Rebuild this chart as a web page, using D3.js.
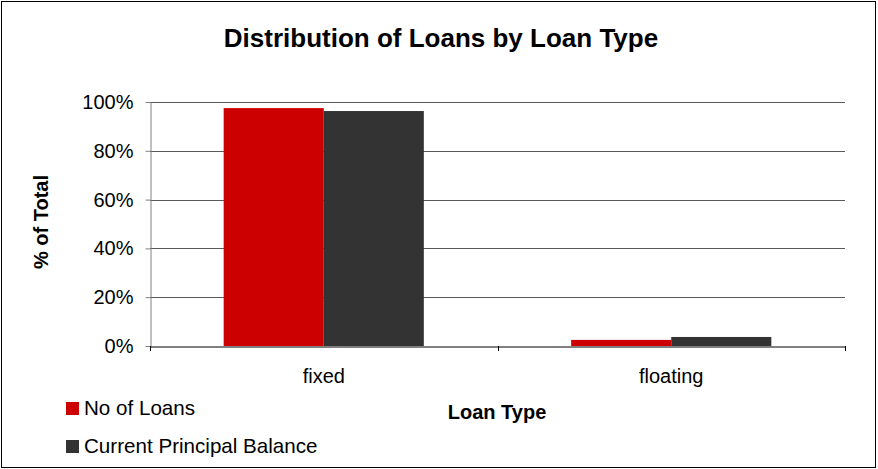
<!DOCTYPE html>
<html>
<head>
<meta charset="utf-8">
<script src="https://cdn.jsdelivr.net/npm/d3@7"></script>
<style>
  body { margin: 0; background: #fff; }
  svg { display: block; font-family: "Liberation Sans", Arial, sans-serif; }
</style>
</head>
<body>
<svg id="chart" width="878" height="469"></svg>
<script>
// Loan type categories and share of total per series
const loanTypes = ["fixed", "floating"];
const seriesNames = ["No of Loans", "Current Principal Balance"];
const noOfLoans = [0.975, 0.025];
const currentPrincipalBalance = [0.963, 0.037];
const yTicks = [0, 0.2, 0.4, 0.6, 0.8, 1.0];
const seriesColors = ["#cc0000", "#333333"];

const svg = d3.select("#chart");
const W = 878, H = 469;
const margin = { left: 150, right: 33, top: 102, bottom: 123 };
const plotW = W - margin.left - margin.right;
const plotH = H - margin.top - margin.bottom;
const FONT = "Liberation Sans, Arial, sans-serif";

// outer frame
svg.append("rect")
  .attr("x", 1.5).attr("y", 1.5)
  .attr("width", W - 4).attr("height", H - 3)
  .attr("fill", "#fff").attr("stroke", "#000").attr("stroke-width", 1);

const g = svg.append("g").attr("transform", `translate(${margin.left},${margin.top})`);

const x = d3.scaleBand().domain(loanTypes).range([0, plotW]).paddingInner(0).paddingOuter(0);
const xInner = d3.scaleBand().domain(seriesNames).range([0, x.bandwidth() * 0.576]);
const groupOffset = (x.bandwidth() - xInner.range()[1]) / 2;
const y = d3.scaleLinear().domain([0, 1]).range([plotH, 0]);

// horizontal gridlines
g.append("g").selectAll("line").data(yTicks.filter(d => d > 0)).join("line")
  .attr("x1", 0).attr("x2", plotW)
  .attr("y1", d => Math.round(y(d)) + 0.5).attr("y2", d => Math.round(y(d)) + 0.5)
  .attr("stroke", "#5a5a5a").attr("stroke-width", 1);

// bars
const values = [noOfLoans, currentPrincipalBalance];
seriesNames.forEach((name, si) => {
  g.append("g").selectAll("rect").data(loanTypes).join("rect")
    .attr("x", (d) => x(d) + groupOffset + xInner(name))
    .attr("width", xInner.bandwidth())
    .attr("y", (d, i) => y(values[si][i]))
    .attr("height", (d, i) => plotH - y(values[si][i]))
    .attr("fill", seriesColors[si]);
});

// y axis
const yAxis = g.append("g")
  .attr("transform", "translate(0.5,0)")
  .call(d3.axisLeft(y).tickValues(yTicks).tickFormat(d3.format(".0%")).tickSize(5).tickSizeOuter(0).tickPadding(12));
yAxis.select(".domain").attr("stroke", "#808080");
yAxis.selectAll(".tick line").attr("stroke", "#808080");
yAxis.selectAll("text").attr("font-size", 20).attr("fill", "#000").attr("font-family", FONT);

// x axis
const xAxis = g.append("g")
  .attr("transform", `translate(0,${Math.round(plotH) + 0.5})`)
  .call(d3.axisBottom(x).tickSize(0).tickPadding(22));
xAxis.select(".domain").attr("stroke", "#000");
xAxis.selectAll("text").attr("font-size", 20).attr("fill", "#000").attr("font-family", FONT);
// category boundary tick marks
g.append("g").selectAll("line").data([0, x.bandwidth(), plotW]).join("line")
  .attr("x1", d => Math.round(d) + 0.5).attr("x2", d => Math.round(d) + 0.5)
  .attr("y1", Math.round(plotH)).attr("y2", Math.round(plotH) + 5)
  .attr("stroke", "#000");

// title
svg.append("text")
  .attr("x", 441).attr("y", 47)
  .attr("text-anchor", "middle")
  .attr("font-size", 26).attr("font-weight", "bold")
  .text("Distribution of Loans by Loan Type");

// axis titles
svg.append("text")
  .attr("transform", "translate(48,222) rotate(-90)")
  .attr("text-anchor", "middle")
  .attr("font-size", 20).attr("font-weight", "bold")
  .text("% of Total");

svg.append("text")
  .attr("x", 497).attr("y", 419)
  .attr("text-anchor", "middle")
  .attr("font-size", 20).attr("font-weight", "bold")
  .text("Loan Type");

// legend
const legend = svg.append("g").attr("transform", "translate(66,402)");
seriesNames.forEach((name, i) => {
  const row = legend.append("g").attr("transform", `translate(0,${i * 38})`);
  row.append("rect").attr("width", 13).attr("height", 13).attr("fill", seriesColors[i]);
  row.append("text").attr("x", 18).attr("y", 13)
    .attr("font-size", 20.6).text(name);
});
</script>
</body>
</html>
